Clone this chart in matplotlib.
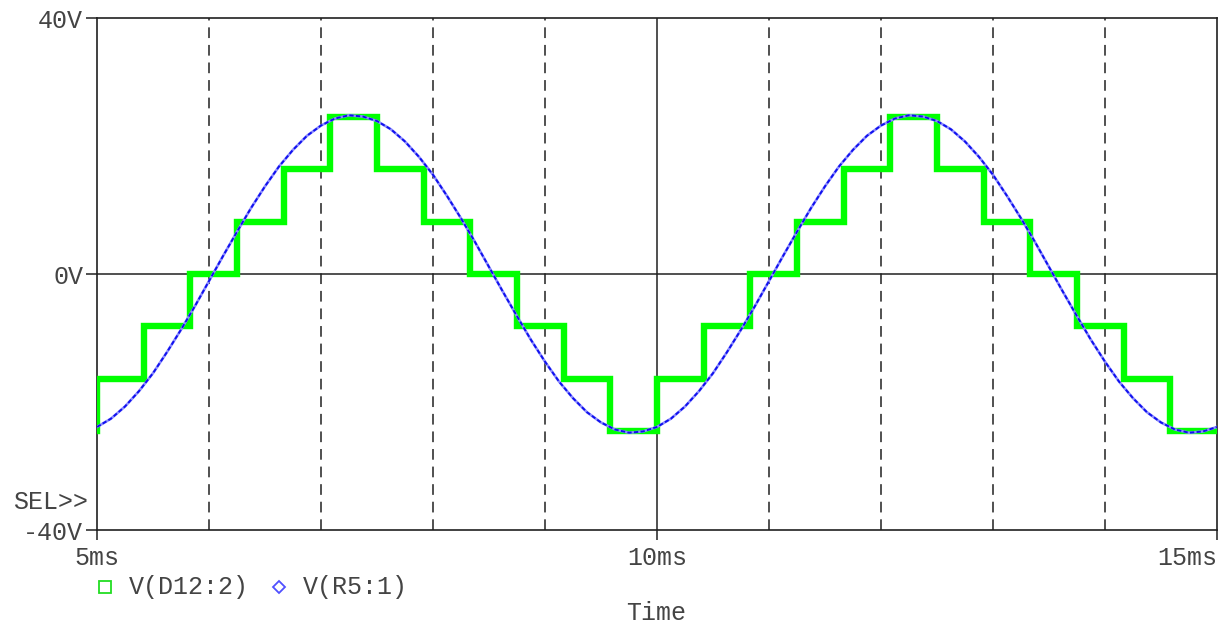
import matplotlib
matplotlib.use("Agg")
import matplotlib.pyplot as plt
from matplotlib.lines import Line2D

# Sample times for the sine trace (ms) and its voltage values (V)
t_sine = [5.0 + 0.125 * i for i in range(81)]
v_sine = [
    -23.9, -22.6, -20.7, -18.3, -15.5, -12.2, -8.7, -5.0, -1.1, 2.8,
    6.6, 10.3, 13.7, 16.8, 19.4, 21.6, 23.2, 24.3, 24.8, 24.6,
    23.9, 22.6, 20.7, 18.3, 15.5, 12.2, 8.7, 5.0, 1.1, -2.8,
    -6.6, -10.3, -13.7, -16.8, -19.4, -21.6, -23.2, -24.3, -24.8, -24.6,
    -23.9, -22.6, -20.7, -18.3, -15.5, -12.2, -8.7, -5.0, -1.1, 2.8,
    6.6, 10.3, 13.7, 16.8, 19.4, 21.6, 23.2, 24.3, 24.8, 24.6,
    23.9, 22.6, 20.7, 18.3, 15.5, 12.2, 8.7, 5.0, 1.1, -2.8,
    -6.6, -10.3, -13.7, -16.8, -19.4, -21.6, -23.2, -24.3, -24.8, -24.6,
    -23.9,
]

# Staircase trace: switching instants (ms) and held levels (V)
t_step = [5.0, 5.0, 5.417, 5.833, 6.25, 6.667, 7.083, 7.5, 7.917, 8.333,
          8.75, 9.167, 9.583, 10.0, 10.417, 10.833, 11.25, 11.667, 12.083,
          12.5, 12.917, 13.333, 13.75, 14.167, 14.583, 15.0]
v_step = [-24.6, -16.4, -8.2, 0.0, 8.2, 16.4, 24.6, 16.4, 8.2, 0.0, -8.2,
          -16.4, -24.6, -16.4, -8.2, 0.0, 8.2, 16.4, 24.6, 16.4, 8.2, 0.0,
          -8.2, -16.4, -24.6, -24.6]

x_ticks = [5, 10, 15]
x_tick_labels = ["5ms", "10ms", "15ms"]
y_ticks = [-40, 0, 40]
y_tick_labels = ["-40V", "0V", "40V"]
dashed_grid_x = [6, 7, 8, 9, 11, 12, 13, 14]
series_names = ["V(D12:2)", "V(R5:1)"]

FONT = "Liberation Mono"
TXT = "#444444"
W, H = 1227, 630

fig = plt.figure(figsize=(W / 100, H / 100), dpi=100)
ax = fig.add_axes([97 / W, 100 / H, (1217 - 97) / W, (530 - 18) / H])

ax.set_xlim(5, 15)
ax.set_ylim(-40, 40)

# grid
for gx in dashed_grid_x:
    ax.axvline(gx, color="#202020", lw=1.1, dashes=(7, 4.5), zorder=1)
ax.axvline(10, color="#202020", lw=1.1, zorder=1)
ax.axhline(0, color="#202020", lw=1.1, zorder=1)

# traces
ax.plot(t_step, v_step, drawstyle="steps-post", color="#00ff00", lw=4.6,
        solid_joinstyle="miter", zorder=3)
ax.plot(t_sine, v_sine, color="#8c8cff", lw=1.9, zorder=4)
ax.plot(t_sine, v_sine, color="#1010ee", lw=1.4, dashes=(2.2, 1.2), zorder=5)

# frame and ticks
for s in ax.spines.values():
    s.set_color("#202020")
    s.set_linewidth(1.2)
ax.set_xticks(x_ticks)
ax.set_xticklabels(x_tick_labels, fontfamily=FONT, fontsize=18, color=TXT)
ax.set_yticks(y_ticks)
ax.set_yticklabels(y_tick_labels, fontfamily=FONT, fontsize=18, color=TXT)
ax.tick_params(axis="x", direction="out", length=7.5, width=1.1,
               color="#202020", pad=4)
ax.tick_params(axis="y", direction="out", length=8, width=1.1,
               color="#202020", pad=2)
ax.get_xticklabels()[-1].set_ha("right")
ax.get_xticklabels()[-1].set_x(15.0)

fig.text(88 / W, 1 - 502 / H, "SEL>>", ha="right", va="center",
         fontfamily=FONT, fontsize=18, color=TXT)

# legend row
leg_y = 1 - 587 / H
fig.add_artist(Line2D([105 / W], [leg_y], marker="s", markersize=8,
                      markerfacecolor="none", markeredgecolor="#22dd22",
                      markeredgewidth=1.3, linestyle="none",
                      transform=fig.transFigure))
fig.text(129 / W, leg_y, series_names[0], ha="left", va="center",
         fontfamily=FONT, fontsize=18, color=TXT)
fig.add_artist(Line2D([279 / W], [leg_y], marker="D", markersize=6,
                      markerfacecolor="none", markeredgecolor="#5050ff",
                      markeredgewidth=1.3, linestyle="none",
                      transform=fig.transFigure))
fig.text(303 / W, leg_y, series_names[1], ha="left", va="center",
         fontfamily=FONT, fontsize=18, color=TXT)

fig.text(656 / W, 1 - 613 / H, "Time", ha="center", va="center",
         fontfamily=FONT, fontsize=18, color=TXT)

fig.savefig("out.png", dpi=100, facecolor="white")
